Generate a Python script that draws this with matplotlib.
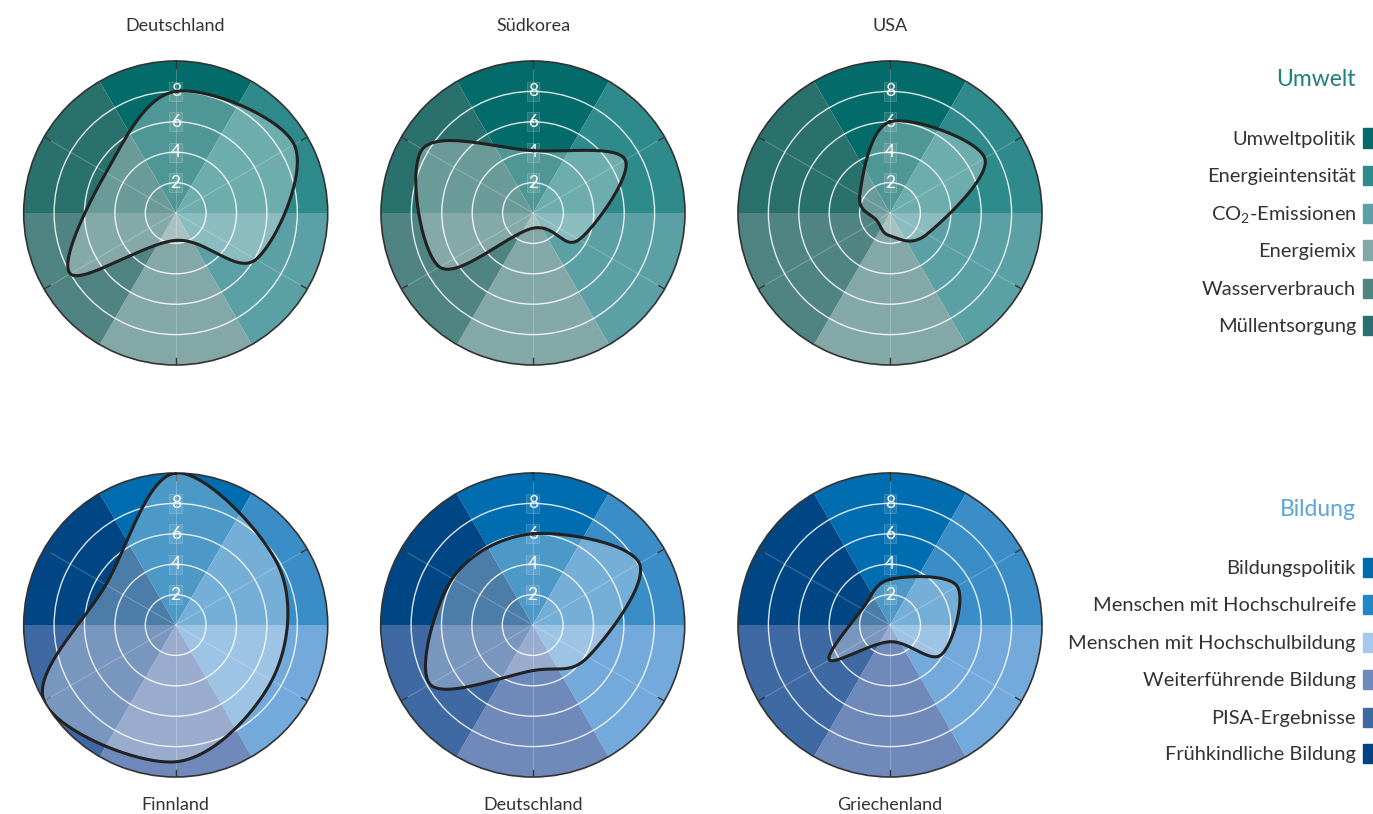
import numpy as np
import matplotlib
matplotlib.use('Agg')
import matplotlib.pyplot as plt
from matplotlib.patches import Rectangle

plt.rcParams['font.family'] = ['Lato', 'DejaVu Sans']
plt.rcParams['mathtext.default'] = 'regular'

# categories, clockwise from the top
umwelt_labels = ['Umweltpolitik', 'Energieintensität', 'CO$_2$-Emissionen',
                 'Energiemix', 'Wasserverbrauch', 'Müllentsorgung']
bildung_labels = ['Bildungspolitik', 'Menschen mit Hochschulreife',
                  'Menschen mit Hochschulbildung', 'Weiterführende Bildung',
                  'PISA-Ergebnisse', 'Frühkindliche Bildung']

# values (0..10)
deutschland_umwelt = [8.0, 9.0, 6.1, 1.8, 8.0, 5.3]
suedkorea_umwelt = [4.1, 7.0, 3.5, 1.0, 7.1, 8.4]
usa_umwelt = [6.0, 7.2, 2.8, 1.5, 1.0, 2.3]
finnland_bildung = [10.0, 7.8, 7.3, 9.0, 10.0, 5.3]
deutschland_bildung = [6.0, 8.1, 4.2, 3.0, 7.8, 6.1]
griechenland_bildung = [3.0, 5.1, 3.9, 1.1, 4.6, 2.1]

ring_ticks = [2, 4, 6, 8]

umwelt_colors = ['#036b6a', '#2e8a8b', '#5aa0a5', '#84a8a7', '#4f8482', '#2a706d']
bildung_colors = ['#006db0', '#3a8dc7', '#74aadb', '#6f89ba', '#3f69a3', '#004684']
bildung_legend_colors = ['#006bb0', '#2287c7', '#a6c8ea', '#6f89ba', '#3f69a3', '#00457f']

W, H = 1373, 814
fig = plt.figure(figsize=(W / 100, H / 100), dpi=100)


def smooth_closed(values, n=80):
    # closed Catmull-Rom curve through the six points, done in x/y
    ang = np.deg2rad(np.arange(len(values)) * 60.0)
    r = np.asarray(values, dtype=float)
    P = np.column_stack([r * np.sin(ang), r * np.cos(ang)])
    k = len(P)
    t = np.linspace(0, 1, n, endpoint=False)[:, None]
    segs = []
    for i in range(k):
        p0, p1, p2, p3 = P[i - 1], P[i], P[(i + 1) % k], P[(i + 2) % k]
        segs.append(0.5 * (2 * p1 + (-p0 + p2) * t
                           + (2 * p0 - 5 * p1 + 4 * p2 - p3) * t ** 2
                           + (-p0 + 3 * p1 - 3 * p2 + p3) * t ** 3))
    xy = np.vstack(segs + [P[:1]])
    th = np.unwrap(np.arctan2(xy[:, 0], xy[:, 1]))
    rr = np.hypot(xy[:, 0], xy[:, 1])
    return th, rr


def radar(cx, cy, values, colors):
    rad = 152
    ax = fig.add_axes([(cx - rad) / W, 1 - (cy + rad) / H, 2 * rad / W, 2 * rad / H],
                      projection='polar')
    ax.set_theta_zero_location('N')
    ax.set_theta_direction(-1)
    ax.patch.set_alpha(0)
    theta = np.deg2rad(np.arange(6) * 60.0)
    ax.bar(theta, [10] * 6, width=np.deg2rad(60), color=colors, edgecolor='none',
           linewidth=0, zorder=1)
    ax.set_ylim(0, 10)
    ax.set_yticks(ring_ticks)
    ax.set_yticklabels([])
    ax.set_xticks(theta)
    ax.set_xticklabels([])
    ax.set_axisbelow(False)
    ax.yaxis.grid(True, color='white', lw=1.0, alpha=0.85)
    ax.xaxis.grid(True, color='white', lw=0.8, alpha=0.22)
    ax.tick_params(axis='both', length=0)
    ax.spines['polar'].set_edgecolor('#333333')
    ax.spines['polar'].set_linewidth(1.2)
    # short dark marks on the rim at each sector centre
    for t in theta:
        ax.plot([t, t], [9.55, 10], color='#333333', lw=1, zorder=2.6)

    th, rr = smooth_closed(values)
    ax.fill(th, rr, color='white', alpha=0.3, lw=0, zorder=3)
    ax.plot(th, rr, color='#222222', lw=2.2, zorder=4)
    for v in ring_ticks:
        ax.text(0, v, str(v), color='white', fontsize=12.5, ha='center', va='center',
                zorder=3.5,
                bbox=dict(boxstyle='square,pad=0.08', fc=(1, 1, 1, 0.1),
                          ec=(1, 1, 1, 0.2), lw=0.6))
    return ax


radar(175.7, 213, deutschland_umwelt, umwelt_colors)
radar(533, 213, suedkorea_umwelt, umwelt_colors)
radar(890, 213, usa_umwelt, umwelt_colors)
radar(175.7, 625, finnland_bildung, bildung_colors)
radar(532.7, 625, deutschland_bildung, bildung_colors)
radar(890, 625, griechenland_bildung, bildung_colors)

# country names
for x, y, name in [(175, 26, 'Deutschland'), (533, 26, 'Südkorea'), (890, 26, 'USA'),
                   (175, 805, 'Finnland'), (533, 805, 'Deutschland'),
                   (890, 805, 'Griechenland')]:
    fig.text(x / W, 1 - y / H, name, fontsize=13, color='#333333',
             ha='center', va='center')


def legend_block(title, title_color, title_y, labels, colors, row_y):
    fig.text(1356 / W, 1 - title_y / H, title, fontsize=16.5, color=title_color,
             ha='right', va='center')
    for lab, col, y in zip(labels, colors, row_y):
        fig.text(1356 / W, 1 - (y + 7) / H, lab, fontsize=14.4, color='#333333',
                 ha='right', va='baseline')
        fig.patches.append(Rectangle(((1363) / W, 1 - (y + 9.5) / H), 10 / W, 19 / H,
                                     transform=fig.transFigure, color=col,
                                     figure=fig))


legend_block('Umwelt', '#1f7f7d', 80, umwelt_labels, umwelt_colors,
             [138, 175, 213, 250, 288, 325])
legend_block('Bildung', '#5ca4da', 510, bildung_labels, bildung_legend_colors,
             [567, 604, 642, 679, 717, 753])

plt.savefig('out.png', dpi=100)
